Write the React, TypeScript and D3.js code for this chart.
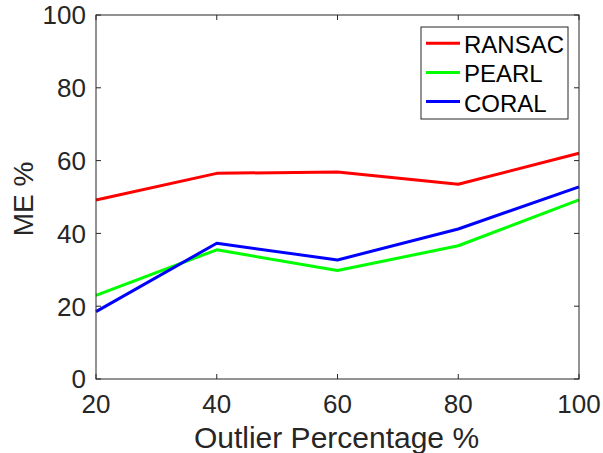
import React from "react";
import * as d3 from "d3";

const xValues = [20, 40, 60, 80, 100];
const ransac = [49.2, 56.5, 56.9, 53.5, 62.0];
const pearl = [23.0, 35.5, 29.8, 36.6, 49.2];
const coral = [18.5, 37.3, 32.7, 41.2, 52.8];
const seriesNames = ["RANSAC", "PEARL", "CORAL"];
const seriesColors = ["#ff0000", "#00ff00", "#0000ff"];
const xTicks = [20, 40, 60, 80, 100];
const yTicks = [0, 20, 40, 60, 80, 100];

export default function App() {
  const W = 603, H = 453;
  const left = 96, right = 579, top = 15, bottom = 379;
  const x = d3.scaleLinear().domain([20, 100]).range([left, right]);
  const y = d3.scaleLinear().domain([0, 100]).range([bottom, top]);
  const line = d3.line<number>().x((_, i) => x(xValues[i])).y((d) => y(d));
  const allSeries = [ransac, pearl, coral];
  const font = "'Liberation Sans', Arial, Helvetica, sans-serif";
  const axisColor = "#262626";
  const tickLen = 5;
  return (
    <svg width={W} height={H} style={{ position: "absolute", left: 0, top: 0, background: "#fff" }} fontFamily={font}>
      <rect x={0} y={0} width={W} height={H} fill="#fff" />
      {allSeries.map((s, i) => (
        <path key={i} d={line(s) || ""} fill="none" stroke={seriesColors[i]} strokeWidth={3} strokeLinejoin="round" />
      ))}
      <rect x={left} y={top} width={right - left} height={bottom - top} fill="none" stroke={axisColor} strokeWidth={1} />
      {xTicks.map((t) => (
        <g key={"x" + t}>
          <line x1={x(t)} x2={x(t)} y1={bottom} y2={bottom - tickLen} stroke={axisColor} />
          <line x1={x(t)} x2={x(t)} y1={top} y2={top + tickLen} stroke={axisColor} />
          <text x={x(t)} y={413} textAnchor="middle" fontSize={26} fill={axisColor}>{t}</text>
        </g>
      ))}
      {yTicks.map((t) => (
        <g key={"y" + t}>
          <line x1={left} x2={left + tickLen} y1={y(t)} y2={y(t)} stroke={axisColor} />
          <line x1={right} x2={right - tickLen} y1={y(t)} y2={y(t)} stroke={axisColor} />
          <text x={86} y={y(t)} dy="0.36em" textAnchor="end" fontSize={26} fill={axisColor}>{t}</text>
        </g>
      ))}
      <text x={(left + right) / 2 - 1} y={448} textAnchor="middle" fontSize={30} fill={axisColor}>Outlier Percentage %</text>
      <text transform={`translate(33,${(top + bottom) / 2 + 2}) rotate(-90)`} textAnchor="middle" fontSize={28} fill={axisColor}>ME %</text>
      <rect x={421} y={27} width={147} height={92} fill="#fff" stroke={axisColor} strokeWidth={1} />
      {seriesNames.map((n, i) => (
        <g key={n}>
          <line x1={426} x2={460} y1={43.3 + i * 29.1} y2={43.3 + i * 29.1} stroke={seriesColors[i]} strokeWidth={3} />
          <text x={464} y={53 + i * 29.3} fontSize={24} fill="#000">{n}</text>
        </g>
      ))}
    </svg>
  );
}
